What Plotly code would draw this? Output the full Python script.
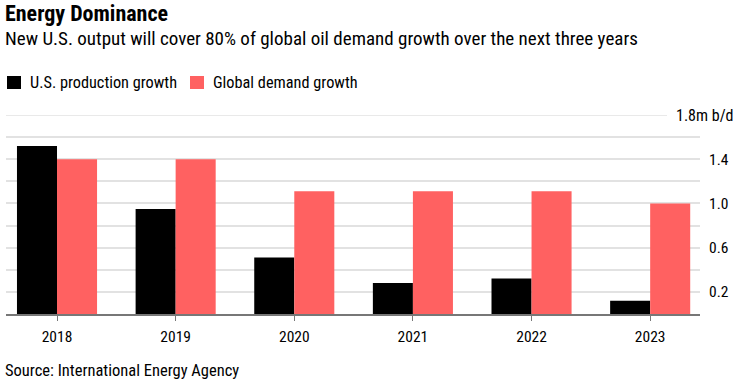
import plotly.graph_objects as go

years = ["2018", "2019", "2020", "2021", "2022", "2023"]
us_production = [1.52, 0.95, 0.51, 0.28, 0.32, 0.12]
global_demand = [1.40, 1.40, 1.11, 1.11, 1.11, 1.00]
series_names = ["U.S. production growth", "Global demand growth"]
ytick_vals = [0.2, 0.4, 0.6, 0.8, 1.0, 1.2, 1.4, 1.6]
ytick_text = ["0.2", "", "0.6", "", "1.0", "", "1.4", ""]
top_val = 1.8
top_label = "1.8m b/d"

FONT = "Roboto Condensed, Liberation Sans Narrow, Arial, sans-serif"
COLORS = ["#000000", "#ff6161"]

fig = go.Figure()
for name, vals, col in zip(series_names, [us_production, global_demand], COLORS):
    fig.add_trace(go.Bar(x=years, y=vals, name=name,
                         marker=dict(color=col, line=dict(width=0))))

L, R, T, B = 6, 37, 115, 71
W, H = 737, 385
pw, ph = W - L - R, H - T - B

def py(p):
    return (H - B - p) / ph

def px(p):
    return (p - L) / pw

fig.update_layout(
    width=W, height=H,
    margin=dict(l=L, r=R, t=T, b=B),
    paper_bgcolor="white", plot_bgcolor="white",
    barmode="group", bargap=0.325, bargroupgap=0,
    font=dict(family=FONT, size=15, color="#000"),
    showlegend=False,
    xaxis=dict(type="category", range=[-0.43, 5.42], showgrid=False,
               showline=True, linecolor="#777", linewidth=1.5,
               ticks="outside", ticklen=5, tickcolor="#777", tickwidth=1,
               ticklabelstandoff=3,
               tickfont=dict(size=15.5), fixedrange=True),
    yaxis=dict(range=[0, 1.8], side="right", tickvals=ytick_vals, ticktext=ytick_text,
               showgrid=True, gridcolor="#e2e2e2", gridwidth=1.5,
               zeroline=False, showline=False, ticks="",
               ticklabelstandoff=8, tickfont=dict(size=15.5), fixedrange=True),
)

fig.add_shape(type="line", xref="paper", yref="y", x0=0, x1=px(667),
              y0=top_val, y1=top_val, line=dict(color="#e2e2e2", width=1.5), layer="below")

# custom legend
legend_sq_x = [7, 190]
for name, col, x0 in zip(series_names, COLORS, legend_sq_x):
    fig.add_shape(type="rect", xref="paper", yref="paper",
                  x0=px(x0), x1=px(x0 + 14), y0=py(89), y1=py(76),
                  fillcolor=col, line=dict(width=0))
    fig.add_annotation(text=name, x=px(x0 + 21), y=py(82.5), xref="paper", yref="paper",
                       xanchor="left", yanchor="middle", showarrow=False,
                       font=dict(size=16.3, family=FONT))

annotations = [
    dict(text="<b>Energy Dominance</b>", x=px(3), y=py(14),
         xanchor="left", yanchor="middle", font=dict(size=22, family=FONT)),
    dict(text="New U.S. output will cover 80% of global oil demand growth over the next three years",
         x=px(3), y=py(39), xanchor="left", yanchor="middle",
         font=dict(size=19, family=FONT)),
    dict(text=top_label, x=px(736), y=top_val, yref="y",
         xanchor="right", yanchor="middle", font=dict(size=16, family=FONT)),
    dict(text="Source: International Energy Agency", x=px(3), y=py(370.5),
         xanchor="left", yanchor="middle", font=dict(size=16.5, family=FONT)),
]
for a in annotations:
    a.setdefault("xref", "paper")
    a.setdefault("yref", "paper")
    a["showarrow"] = False
    fig.add_annotation(**a)

fig.write_html("out.html", post_script="document.body.style.margin='0';",
               config={"displayModeBar": False})
